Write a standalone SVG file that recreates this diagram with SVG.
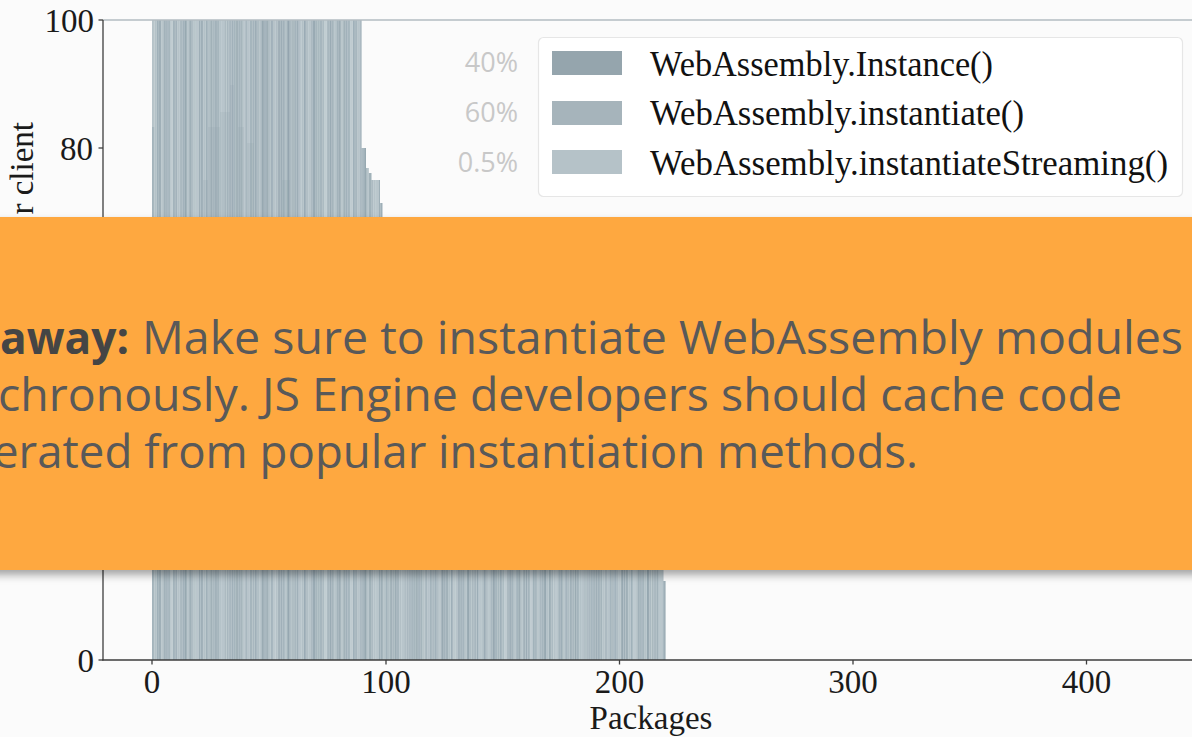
<svg xmlns="http://www.w3.org/2000/svg" width="1192" height="737" viewBox="0 0 1192 737">
  <style>
    .tick { font-family: "Liberation Serif", "DejaVu Serif", serif; font-size: 33px; fill: #1a1a1a; }
    .axis { stroke: #3d3d3d; stroke-width: 1.3; fill: none; }
    .legend-label { font-family: "Liberation Serif", "DejaVu Serif", serif; font-size: 35px; fill: #111; }
    .share { font-family: "Open Sans", "Noto Sans", sans-serif; font-size: 27px; fill: #c8c8c8; text-anchor: end; }
    .note { font-family: "Open Sans", "Noto Sans", sans-serif; font-size: 45px; fill: #595959; }
    .note-strong { font-family: "Open Sans", "Noto Sans", sans-serif; font-size: 45px; font-weight: bold; fill: #454545; }
  </style>
  <defs>
    <!-- one repeat of 7 package columns, 2.335 px per package -->
    <pattern id="barStripes" patternUnits="userSpaceOnUse" x="152" y="0" width="16.345" height="20">
      <rect width="16.345" height="20" fill="#d2dbdf"/>
      <rect x="0" width="1.85" height="20" fill="#a4b4bc"/>
      <rect x="2.335" width="1.85" height="20" fill="#b2c0c6"/>
      <rect x="4.67" width="1.85" height="20" fill="#9eafb8"/>
      <rect x="7.005" width="1.85" height="20" fill="#abbac1"/>
      <rect x="9.34" width="1.85" height="20" fill="#b5c2c8"/>
      <rect x="11.675" width="1.85" height="20" fill="#a7b6be"/>
      <rect x="14.01" width="1.85" height="20" fill="#9bacb5"/>
    </pattern>
    <!-- second stripe layer with a different period to break up the repeat -->
    <pattern id="barShade" patternUnits="userSpaceOnUse" x="152" y="0" width="25.685" height="20">
      <rect x="7.005" width="1.85" height="20" fill="#8799a3" opacity="0.5"/>
      <rect x="11.675" width="1.85" height="20" fill="#95a7b0" opacity="0.4"/>
      <rect x="18.68" width="1.85" height="20" fill="#c9d3d8" opacity="0.6"/>
      <rect x="23.35" width="1.85" height="20" fill="#8fa1aa" opacity="0.35"/>
    </pattern>
    <clipPath id="barOutline">
      <path d="M152,660 V20 H361.7 V148 H366 V168 H368.9 V173 H371.6 V180 H380 V203 H382.5 V260 H640 V560 H663.4 V581 H665.7 V660 Z"/>
    </clipPath>
    <filter id="boxShadow" x="-5%" y="-5%" width="110%" height="115%">
      <feDropShadow dx="0" dy="5" stdDeviation="4" flood-color="#000" flood-opacity="0.35"/>
    </filter>
  </defs>

  <!-- page -->
  <rect width="1192" height="737" fill="#fbfbfb"/>

  <!-- stacked per-package bars -->
  <g id="bars" clip-path="url(#barOutline)">
    <rect x="150" y="18" width="520" height="644" fill="url(#barStripes)"/>
    <rect x="150" y="18" width="520" height="644" fill="url(#barShade)"/>
    <!-- darker lower segments (Instance share) -->
    <g fill="#8a9ca6" opacity="0.14">
      <rect x="203" y="180" width="5" height="40"/>
      <rect x="208" y="127" width="12" height="93"/>
      <rect x="220" y="112" width="10" height="108"/>
      <rect x="230" y="85" width="4" height="135"/>
      <rect x="238" y="127" width="6" height="93"/>
      <rect x="247" y="143" width="7" height="77"/>
      <rect x="282" y="180" width="8" height="40"/>
    </g>
    <rect x="252" y="20" width="48" height="200" fill="#7f929c" opacity="0.08"/>
    <rect x="152" y="20" width="3" height="107" fill="#c7d1d6" opacity="0.5"/>
  </g>

  <!-- axes -->
  <g id="axes">
    <line x1="103" y1="20" x2="1192" y2="20" stroke="#b3bcc2" stroke-width="1.3"/>
    <line class="axis" x1="103" y1="20" x2="103" y2="660.5"/>
    <line class="axis" x1="102.4" y1="660" x2="1192" y2="660"/>
    <g class="axis">
      <line x1="98.5" y1="20" x2="103" y2="20"/>
      <line x1="98.5" y1="148" x2="103" y2="148"/>
      <line x1="98.5" y1="660" x2="103" y2="660"/>
      <line x1="152" y1="660" x2="152" y2="664.5"/>
      <line x1="386" y1="660" x2="386" y2="664.5"/>
      <line x1="619.5" y1="660" x2="619.5" y2="664.5"/>
      <line x1="853" y1="660" x2="853" y2="664.5"/>
      <line x1="1086.5" y1="660" x2="1086.5" y2="664.5"/>
    </g>
    <text class="tick" x="94" y="32" text-anchor="end">100</text>
    <text class="tick" x="93" y="160" text-anchor="end">80</text>
    <text class="tick" x="94" y="672" text-anchor="end">0</text>
    <text class="tick" x="152" y="693" text-anchor="middle">0</text>
    <text class="tick" x="386" y="693" text-anchor="middle">100</text>
    <text class="tick" x="619.5" y="693" text-anchor="middle">200</text>
    <text class="tick" x="853" y="693" text-anchor="middle">300</text>
    <text class="tick" x="1086.5" y="693" text-anchor="middle">400</text>
    <text class="tick" x="651" y="729" text-anchor="middle">Packages</text>
    <text class="tick" transform="translate(33,122) rotate(-90)" text-anchor="end">r client</text>
  </g>

  <!-- legend -->
  <g id="legend">
    <rect x="538.5" y="37.5" width="644" height="159" rx="5" fill="#ffffff" stroke="#e6e6e6" stroke-width="1.2"/>
    <rect x="552" y="51" width="70" height="24" fill="#95a5ad"/>
    <rect x="552" y="101" width="70" height="24" fill="#a6b4bb"/>
    <rect x="552" y="150" width="70" height="24" fill="#b5c2c8"/>
    <text class="legend-label" x="650" y="76" textLength="343" lengthAdjust="spacingAndGlyphs">WebAssembly.Instance()</text>
    <text class="legend-label" x="650" y="125" textLength="374" lengthAdjust="spacingAndGlyphs">WebAssembly.instantiate()</text>
    <text class="legend-label" x="650" y="175" textLength="518" lengthAdjust="spacingAndGlyphs">WebAssembly.instantiateStreaming()</text>
    <text class="share" x="518" y="72">40%</text>
    <text class="share" x="518" y="122">60%</text>
    <text class="share" x="518" y="172">0.5%</text>
  </g>

  <!-- takeaway banner -->
  <g id="takeaway">
    <rect x="-20" y="217" width="1232" height="353" fill="#fea841" filter="url(#boxShadow)"/>
    <text class="note-strong" x="0" y="354" textLength="129" lengthAdjust="spacingAndGlyphs">away:</text>
    <text class="note" x="142" y="354" textLength="1041" lengthAdjust="spacingAndGlyphs">Make sure to instantiate WebAssembly modules</text>
    <text class="note" x="-2" y="411" textLength="1124" lengthAdjust="spacingAndGlyphs">chronously. JS Engine developers should cache code</text>
    <text class="note" x="-7" y="468" textLength="925" lengthAdjust="spacingAndGlyphs">erated from popular instantiation methods.</text>
  </g>
</svg>
